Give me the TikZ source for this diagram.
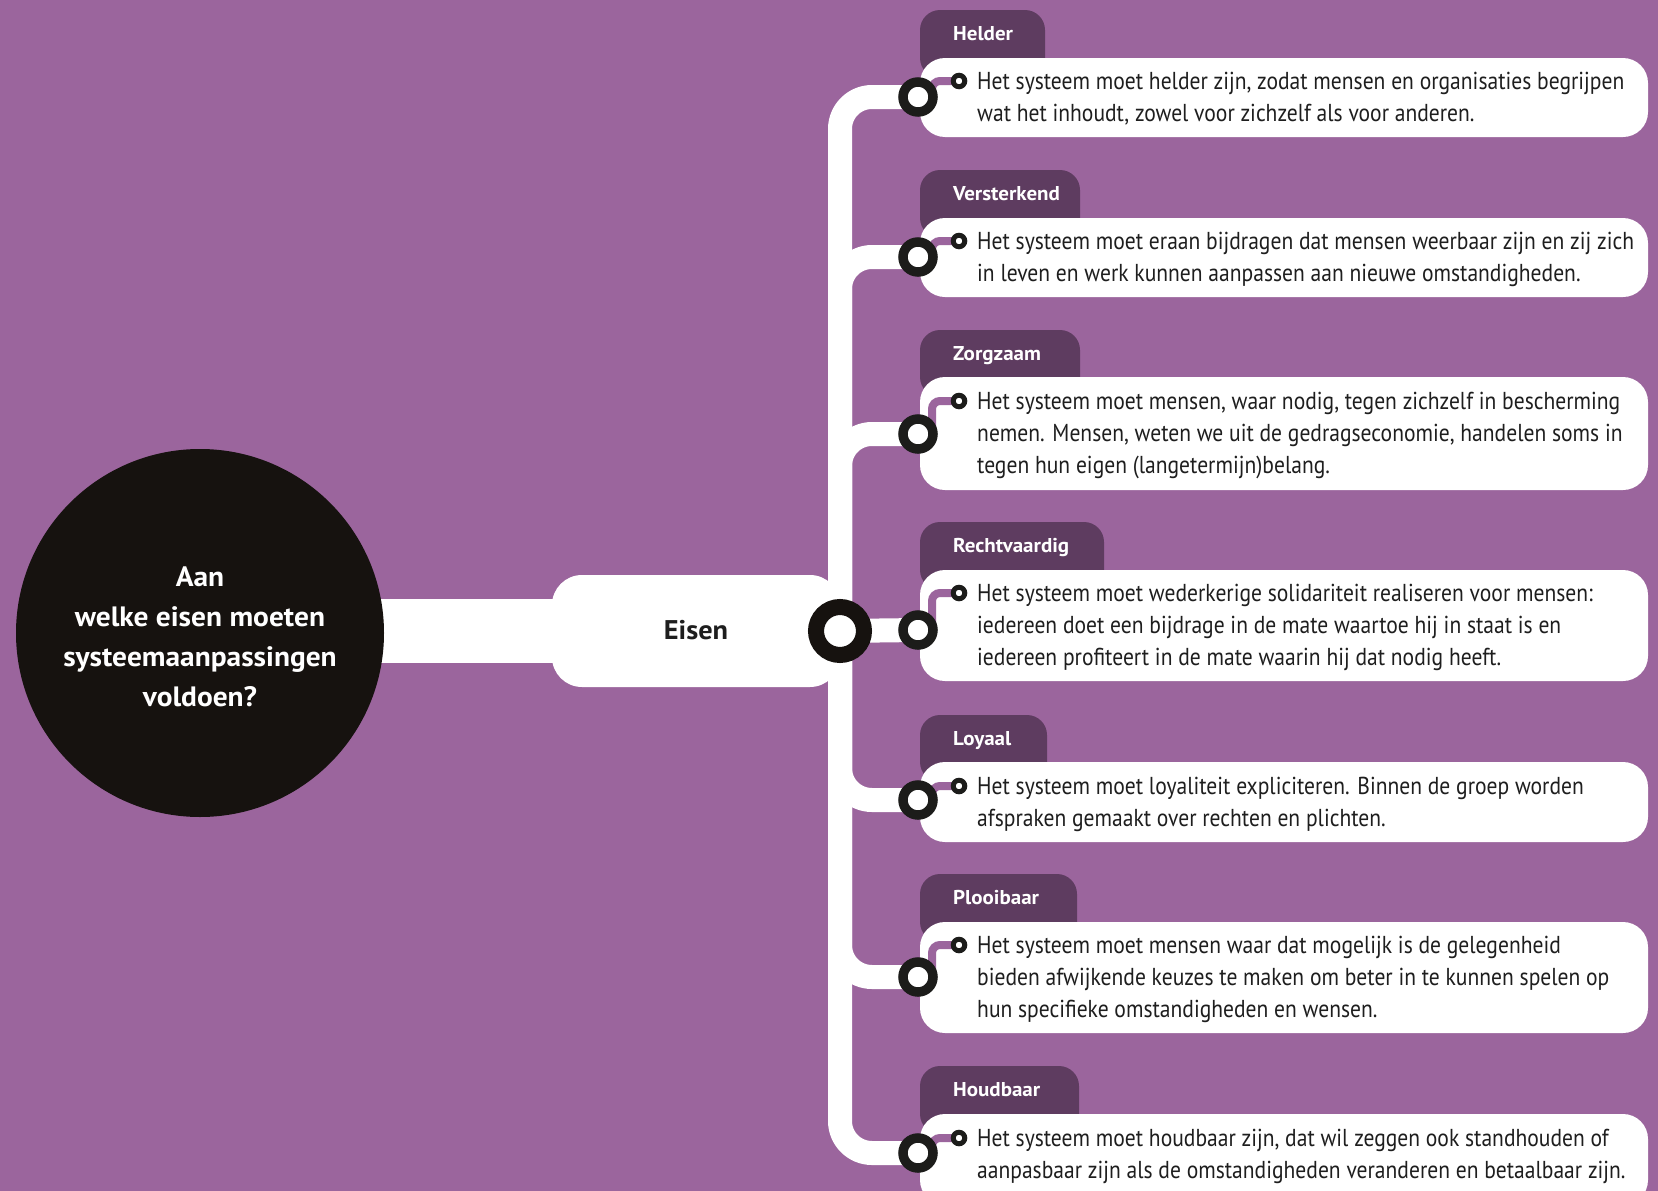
\documentclass[tikz,border=0pt]{standalone}
\usepackage{fontspec}
\setmainfont[FakeStretch=0.88]{PT Sans}
\newfontfamily\boldwide[FakeStretch=1.05]{PT Sans}
\definecolor{bgpurple}{RGB}{155,101,157}
\definecolor{tabpurple}{RGB}{94,60,96}
\definecolor{inkblack}{RGB}{22,18,15}
\definecolor{ringblack}{RGB}{28,28,26}
\definecolor{txtgray}{RGB}{30,30,30}
\tikzset{
  branch/.style={draw=white, line width=24pt, rounded corners=32pt},
  innerline/.style={draw=bgpurple, line width=8pt, rounded corners=8pt},
  tabshape/.style={fill=tabpurple, rounded corners=20pt},
  boxshape/.style={fill=white, rounded corners=25pt},
  bigring/.style={circle, draw=ringblack, line width=9.5pt, fill=white, minimum size=30pt, inner sep=0pt},
  smallring/.style={circle, draw=ringblack, line width=5pt, fill=white, minimum size=11.5pt, inner sep=0pt},
  hubring/.style={circle, draw=inkblack, line width=16pt, fill=white, minimum size=48pt, inner sep=0pt},
  txt/.style={anchor=mid west, inner sep=0pt, text=txtgray, font=\fontsize{24.5pt}{32pt}\selectfont},
  tablabel/.style={anchor=base west, inner sep=0pt, text=white, font=\boldwide\fontsize{20pt}{24pt}\selectfont\bfseries},
}
\newcommand\eitem[8]{%
  \fill[tabshape] (920,#4+20) -- (920,#2) -- (#3,#2) -- (#3,#4+20) -- cycle;
  \node[tablabel] (lab#1) at (953,#2+30) {#8};
  \fill[boxshape] (920,#4) rectangle (1648,#5);
  \coordinate (s#1) at (959,#7);
  \draw[innerline] ([xshift=14pt]c#1) |- (s#1);
  \node[bigring] (r#1) at (c#1) {};
  \node[smallring] (sr#1) at (s#1) {};
}
\begin{document}
\begin{tikzpicture}[x=1pt,y=-1pt]
\fill[bgpurple] (0,0) rectangle (1658,1191);
\useasboundingbox (0,0) rectangle (1658,1191);
% ring centres
\coordinate (hubc) at (840,631);
\coordinate (c1) at (918,97);
\coordinate (c2) at (918,257);
\coordinate (c3) at (918,434);
\coordinate (c4) at (918,630);
\coordinate (c5) at (918,800);
\coordinate (c6) at (918,977);
\coordinate (c7) at (918,1153);
% central circle and link to Eisen
\fill[white] (300,599) rectangle (600,663);
\node[circle, fill=inkblack, minimum size=368pt, inner sep=0pt] (main) at (200,633) {};
\node[text=white, align=center, font=\boldwide\fontsize{28pt}{40pt}\selectfont\bfseries] (maintext) at (200,637) {Aan\\welke eisen moeten\\systeemaanpassingen\\voldoen?};
\fill[white, rounded corners=30pt] (552,575) rectangle (840,687);
\node[font=\boldwide\fontsize{27pt}{32pt}\selectfont\bfseries, text=txtgray] (eisen) at (696,630) {Eisen};
% branches
\foreach \k in {1,2,3,5,6,7} { \draw[branch] (hubc) |- (c\k); }
\draw[branch] (hubc) -- (c4);
% items
\eitem{1}{10}{1045}{58}{137}{97}{81}{Helder}
\eitem{2}{170}{1080}{218}{297}{257}{241}{Versterkend}
\eitem{3}{330}{1080}{377}{490}{434}{401}{Zorgzaam}
\eitem{4}{522}{1104}{570}{681}{630}{593}{Rechtvaardig}
\eitem{5}{715}{1047}{762}{842}{800}{786}{Loyaal}
\eitem{6}{874}{1077}{922}{1033}{977}{945}{Plooibaar}
\eitem{7}{1066}{1079}{1114}{1205}{1153}{1138}{Houdbaar}
\node[hubring] (hub) at (hubc) {};
% texts
\node[txt] (t1a) at (977,87) {Het systeem moet helder zijn, zodat mensen en organisaties begrijpen};
\node[txt] (t1b) at (977,119) {wat het inhoudt, zowel voor zichzelf als voor anderen.};
\node[txt] (t2a) at (977,247) {Het systeem moet eraan bijdragen dat mensen weerbaar zijn en zij zich};
\node[txt] (t2b) at (977,279) {in leven en werk kunnen aanpassen aan nieuwe omstandigheden.};
\node[txt] (t3a) at (977,407) {Het systeem moet mensen, waar nodig, tegen zichzelf in bescherming};
\node[txt] (t3b) at (977,439) {nemen. Mensen, weten we uit de gedragseconomie, handelen soms in};
\node[txt] (t3c) at (977,471) {tegen hun eigen (langetermijn)belang.};
\node[txt] (t4a) at (977,599) {Het systeem moet wederkerige solidariteit realiseren voor mensen:};
\node[txt] (t4b) at (977,631) {iedereen doet een bijdrage in de mate waartoe hij in staat is en};
\node[txt] (t4c) at (977,663) {iedereen profiteert in de mate waarin hij dat nodig heeft.};
\node[txt] (t5a) at (977,792) {Het systeem moet loyaliteit expliciteren. Binnen de groep worden};
\node[txt] (t5b) at (977,824) {afspraken gemaakt over rechten en plichten.};
\node[txt] (t6a) at (977,951) {Het systeem moet mensen waar dat mogelijk is de gelegenheid};
\node[txt] (t6b) at (977,983) {bieden afwijkende keuzes te maken om beter in te kunnen spelen op};
\node[txt] (t6c) at (977,1015) {hun specifieke omstandigheden en wensen.};
\node[txt] (t7a) at (977,1144) {Het systeem moet houdbaar zijn, dat wil zeggen ook standhouden of};
\node[txt] (t7b) at (977,1176) {aanpasbaar zijn als de omstandigheden veranderen en betaalbaar zijn.};
\end{tikzpicture}
\end{document}
